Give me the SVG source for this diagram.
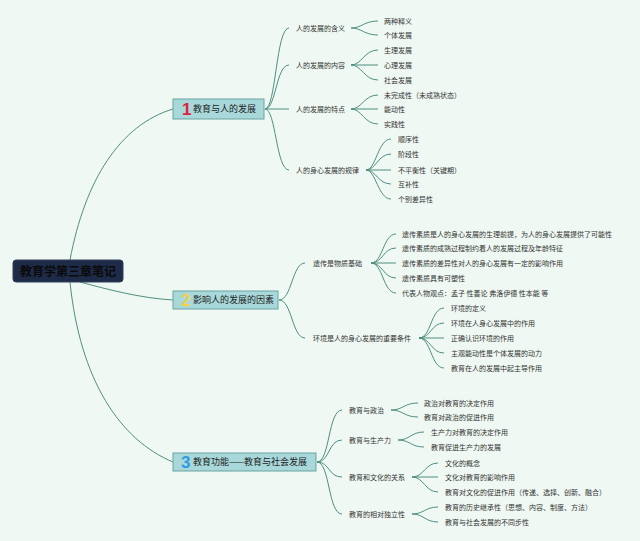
<svg xmlns="http://www.w3.org/2000/svg" width="640" height="541" viewBox="0 0 640 541">
<style>
.c{fill:none;stroke:#4f8f80;stroke-width:1}
.t{font-family:"Noto Sans CJK SC","Noto Sans",sans-serif;font-size:7px;fill:#333}
.bt{font-family:"Noto Sans CJK SC","Noto Sans",sans-serif;font-size:9px;fill:#222}
.box{fill:#a8d8da;stroke:#6aa3a3;stroke-width:1}
.num{font-family:"Liberation Sans",Arial,sans-serif;font-size:17px;font-weight:bold}
</style>
<rect width="640" height="541" fill="#eff8f2"/>
<g id="connectors">
<path class="c" d="M70,260 C85,180 120,125 173,109"/>
<path class="c" d="M80,282 C110,290 140,298 173,300"/>
<path class="c" d="M70,282 C80,380 120,440 173,462"/>
<!-- branch1 -->
<path class="c" d="M265,109 C276,109 276,28 289,28"/>
<path class="c" d="M265,109 C276,109 276,65 289,65"/>
<path class="c" d="M265,109 L289,109"/>
<path class="c" d="M265,109 C276,109 276,170 289,170"/>
<path class="c" d="M351,28 C362,28 364,21 378,21"/>
<path class="c" d="M351,28 C362,28 364,35 378,35"/>
<path class="c" d="M351,65 C362,65 364,50 378,50"/>
<path class="c" d="M351,65 L378,65"/>
<path class="c" d="M351,65 C362,65 364,80 378,80"/>
<path class="c" d="M351,109 C362,109 364,95 378,95"/>
<path class="c" d="M351,109 L378,109"/>
<path class="c" d="M351,109 C362,109 364,124 378,124"/>
<path class="c" d="M366,170 C376,170 378,139 391,139"/>
<path class="c" d="M366,170 C376,170 378,154 391,154"/>
<path class="c" d="M366,170 L391,170"/>
<path class="c" d="M366,170 C376,170 378,184 391,184"/>
<path class="c" d="M366,170 C376,170 378,199 391,199"/>
<!-- branch2 -->
<path class="c" d="M279,300 C292,300 292,263 305,263"/>
<path class="c" d="M279,300 C292,300 292,338 305,338"/>
<path class="c" d="M371,263 C383,263 383,234 396,234"/>
<path class="c" d="M371,263 C383,263 383,248 396,248"/>
<path class="c" d="M371,263 L396,263"/>
<path class="c" d="M371,263 C383,263 383,278 396,278"/>
<path class="c" d="M371,263 C383,263 383,293 396,293"/>
<path class="c" d="M419,338 C431,338 431,308 444,308"/>
<path class="c" d="M419,338 C431,338 431,323 444,323"/>
<path class="c" d="M419,338 L444,338"/>
<path class="c" d="M419,338 C431,338 431,353 444,353"/>
<path class="c" d="M419,338 C431,338 431,368 444,368"/>
<!-- branch3 -->
<path class="c" d="M317,462 C330,462 328,410 342,410"/>
<path class="c" d="M317,462 C330,462 328,440 342,440"/>
<path class="c" d="M317,462 C330,462 328,477 342,477"/>
<path class="c" d="M317,462 C330,462 328,514 342,514"/>
<path class="c" d="M391,410 C403,410 404,403 418,403"/>
<path class="c" d="M391,410 C403,410 404,417 418,417"/>
<path class="c" d="M398,440 C410,440 411,432 424,432"/>
<path class="c" d="M398,440 C410,440 411,447 424,447"/>
<path class="c" d="M412,477 C424,477 425,463 438,463"/>
<path class="c" d="M412,477 L438,477"/>
<path class="c" d="M412,477 C424,477 425,492 438,492"/>
<path class="c" d="M412,514 C424,514 425,507 438,507"/>
<path class="c" d="M412,514 C424,514 425,522 438,522"/>
</g>
<g id="root">
<rect x="13" y="260" width="110" height="22" rx="3" fill="#1e2b48" stroke="#33415e"/>
<text x="68" y="275.5" text-anchor="middle" font-family="'Noto Sans CJK SC',sans-serif" font-size="12" font-weight="bold" fill="#0a0a0a">教育学第三章笔记</text>
</g>
<g id="b1">
<rect class="box" x="173" y="99" width="91" height="20"/>
<text class="num" x="182" y="115" fill="#e0213c">1</text>
<text class="bt" x="193" y="112.2">教育与人的发展</text>
</g>
<g id="b2">
<rect class="box" x="173" y="291" width="105" height="18"/>
<text class="num" x="181" y="306" fill="#f2d048">2</text>
<text class="bt" x="193" y="303.2">影响人的发展的因素</text>
</g>
<g id="b3">
<rect class="box" x="173" y="453" width="143" height="18"/>
<text class="num" x="181" y="468" fill="#2e9be0">3</text>
<text class="bt" x="193" y="465.2">教育功能——教育与社会发展</text>
</g>
<g id="n1a"><text class="t" x="296" y="30.5">人的发展的含义</text></g>
<g id="n1a1"><text class="t" x="384" y="23.5">两种释义</text></g>
<g id="n1a2"><text class="t" x="384" y="37.5">个体发展</text></g>
<g id="n1b"><text class="t" x="296" y="67.5">人的发展的内容</text></g>
<g id="n1b1"><text class="t" x="384" y="52.5">生理发展</text></g>
<g id="n1b2"><text class="t" x="384" y="67.5">心理发展</text></g>
<g id="n1b3"><text class="t" x="384" y="82.5">社会发展</text></g>
<g id="n1c"><text class="t" x="296" y="111.5">人的发展的特点</text></g>
<g id="n1c1"><text class="t" x="384" y="97.5">未完成性（未成熟状态）</text></g>
<g id="n1c2"><text class="t" x="384" y="111.5">能动性</text></g>
<g id="n1c3"><text class="t" x="384" y="126.5">实践性</text></g>
<g id="n1d"><text class="t" x="296" y="172.5">人的身心发展的规律</text></g>
<g id="n1d1"><text class="t" x="398" y="141.5">顺序性</text></g>
<g id="n1d2"><text class="t" x="398" y="156.5">阶段性</text></g>
<g id="n1d3"><text class="t" x="398" y="172.5">不平衡性（关键期）</text></g>
<g id="n1d4"><text class="t" x="398" y="186.5">互补性</text></g>
<g id="n1d5"><text class="t" x="398" y="201.5">个别差异性</text></g>
<g id="n2a"><text class="t" x="313" y="265.5">遗传是物质基础</text></g>
<g id="n2a1"><text class="t" x="402" y="236.5">遗传素质是人的身心发展的生理前提，为人的身心发展提供了可能性</text></g>
<g id="n2a2"><text class="t" x="402" y="250.5">遗传素质的成熟过程制约着人的发展过程及年龄特征</text></g>
<g id="n2a3"><text class="t" x="402" y="265.5">遗传素质的差异性对人的身心发展有一定的影响作用</text></g>
<g id="n2a4"><text class="t" x="402" y="280.5">遗传素质具有可塑性</text></g>
<g id="n2a5"><text class="t" x="402" y="295.5">代表人物观点：孟子 性善论 弗洛伊德 性本能 等</text></g>
<g id="n2b"><text class="t" x="313" y="340.5">环境是人的身心发展的重要条件</text></g>
<g id="n2b1"><text class="t" x="451" y="310.5">环境的定义</text></g>
<g id="n2b2"><text class="t" x="451" y="325.5">环境在人身心发展中的作用</text></g>
<g id="n2b3"><text class="t" x="451" y="340.5">正确认识环境的作用</text></g>
<g id="n2b4"><text class="t" x="451" y="355.5">主观能动性是个体发展的动力</text></g>
<g id="n2b5"><text class="t" x="451" y="370.5">教育在人的发展中起主导作用</text></g>
<g id="n3a"><text class="t" x="349" y="412.5">教育与政治</text></g>
<g id="n3a1"><text class="t" x="424" y="405.5">政治对教育的决定作用</text></g>
<g id="n3a2"><text class="t" x="424" y="419.5">教育对政治的促进作用</text></g>
<g id="n3b"><text class="t" x="349" y="442.5">教育与生产力</text></g>
<g id="n3b1"><text class="t" x="431" y="434.5">生产力对教育的决定作用</text></g>
<g id="n3b2"><text class="t" x="431" y="449.5">教育促进生产力的发展</text></g>
<g id="n3c"><text class="t" x="349" y="479.5">教育和文化的关系</text></g>
<g id="n3c1"><text class="t" x="445" y="465.5">文化的概念</text></g>
<g id="n3c2"><text class="t" x="445" y="479.5">文化对教育的影响作用</text></g>
<g id="n3c3"><text class="t" x="445" y="494.5">教育对文化的促进作用（传递、选择、创新、融合）</text></g>
<g id="n3d"><text class="t" x="349" y="516.5">教育的相对独立性</text></g>
<g id="n3d1"><text class="t" x="445" y="509.5">教育的历史继承性（思想、内容、制度、方法）</text></g>
<g id="n3d2"><text class="t" x="445" y="524.5">教育与社会发展的不同步性</text></g>
</svg>
